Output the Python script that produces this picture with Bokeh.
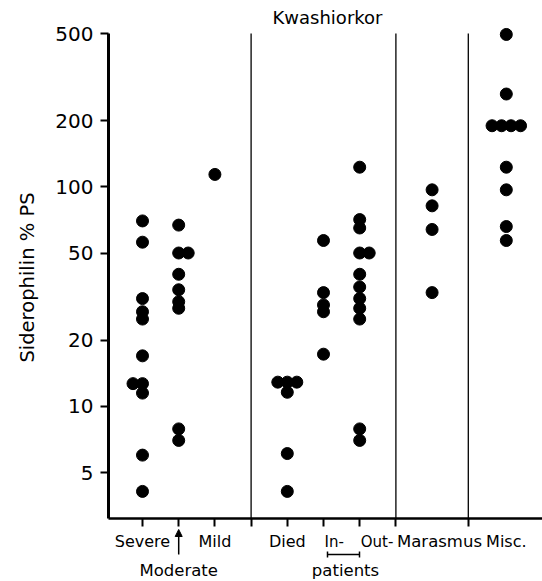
import math
from bokeh.plotting import figure
from bokeh.models import (FixedTicker, BasicTickFormatter, Label, Arrow, LinearAxis,
                          LogAxis, NormalHead, TeeHead, ColumnDataSource)
from bokeh.embed import file_html
from bokeh.resources import INLINE

# ---------------- data ----------------
title_text = "Kwashiorkor"
y_label = "Siderophilin % PS"
y_ticks = [5, 10, 20, 50, 100, 200, 500]

groups = ["Severe", "Moderate", "Mild", "Died", "In-", "Out-", "Marasmus", "Misc."]
group_pos = [1, 2, 3, 5, 6, 7, 9, 11.05]

severe = [70, 56, 31, 27, 25, 17, 12.7, 12.7, 11.5, 6.0, 4.1]
moderate = [67, 50, 50, 40, 34, 30, 28, 7.9, 7.0]
mild = [114]
died = [12.9, 12.9, 12.9, 11.6, 6.1, 4.1]
inpatients = [57, 33, 29, 27, 17.3]
outpatients = [123, 71, 65, 50, 50, 40, 35, 31, 28, 25, 7.9, 7.0]
marasmus = [97, 82, 64, 33]
misc = [495, 265, 190, 190, 190, 190, 123, 97, 66, 57]

group_values = [severe, moderate, mild, died, inpatients, outpatients, marasmus, misc]
x_ticks = [1, 2, 3, 4, 5, 6, 7, 8, 10]
dividers = [4, 8, 10]
outpatient_word = "patients"

# ---------------- layout constants (pixels of the drawing) ----------------
W, H = 542, 581
PX_PER_DEC = 219.5          # pixels per decade on the y axis
PX_PER_UNIT = 36.2          # pixels per category step
Y500_PX = 33                # pixel row of the 500 tick
X1_PX = 142                 # pixel column of category 1
AXIS_X_PX = 108
AXIS_Y_PX = 518
FONT = "DejaVu Sans"


def xv(px):
    return 1 + (px - X1_PX) / PX_PER_UNIT


def yv(py):
    return 500 / 10 ** ((py - Y500_PX) / PX_PER_DEC)


y_axis_val = yv(AXIS_Y_PX)
x_axis_val = xv(AXIS_X_PX)

# jitter for identical values
spacing = 9.5 / PX_PER_UNIT
xs, ys = [], []
for name, pos, vals in zip(groups, group_pos, group_values):
    counts = {}
    for v in vals:
        counts[v] = counts.get(v, 0) + 1
    seen = {}
    for v in vals:
        k = counts[v]
        i = seen.get(v, 0)
        seen[v] = i + 1
        if k == 2:
            off = (i - 1) if name == "Severe" else i
        else:
            off = i - (k - 1) / 2
        xs.append(pos + off * spacing)
        ys.append(v)

src = ColumnDataSource(dict(x=xs, y=ys))

p = figure(width=W, height=H, x_range=(xv(0), xv(W)), y_range=(yv(H), yv(0)),
           y_axis_type="log", x_axis_location=None, y_axis_location=None,
           output_backend="svg", toolbar_location=None,
           min_border_left=0, min_border_right=0, min_border_top=0,
           min_border_bottom=0)
p.outline_line_color = None
p.xgrid.visible = False
p.ygrid.visible = False
p.background_fill_color = "white"
p.border_fill_color = "white"

# dividers
p.segment(x0=dividers, x1=dividers, y0=[y_axis_val] * len(dividers),
          y1=[max(y_ticks)] * len(dividers), line_color="black", line_width=1.3)

p.scatter("x", "y", source=src, size=12, color="black")

# y axis (fixed inside the drawing)
yax = LogAxis(fixed_location=x_axis_val, ticker=FixedTicker(ticks=y_ticks),
              formatter=BasicTickFormatter(), bounds=(y_axis_val, max(y_ticks)))
yax.axis_line_width = 3
yax.major_tick_line_width = 2
yax.major_tick_out = 8
yax.major_tick_in = 0
yax.minor_tick_line_color = None
yax.major_label_standoff = 7
yax.major_label_text_font = FONT
yax.major_label_text_font_size = "20px"
yax.major_label_text_color = "black"
p.add_layout(yax, "left")

# x axis (fixed inside the drawing)
xax = LinearAxis(fixed_location=y_axis_val, ticker=FixedTicker(ticks=x_ticks),
                 bounds=(x_axis_val, xv(W)))
xax.axis_line_width = 2.5
xax.major_tick_line_width = 2
xax.major_tick_out = 8
xax.major_tick_in = 0
xax.minor_tick_line_color = None
xax.major_label_overrides = {t: "" for t in x_ticks}
p.add_layout(xax, "below")

# y axis title
p.add_layout(Label(x=xv(27), y=yv(277), text=y_label, text_font=FONT,
                   text_font_size="19.5px", angle=math.pi / 2, text_align="center",
                   text_baseline="middle", text_color="black"))

# category labels
ROW1 = 541
for name, pos in zip(groups, group_pos):
    if name == "Moderate":
        continue
    if name in ("In-", "Out-"):
        p.add_layout(Label(x=pos + 0.03, y=yv(ROW1), text=name, text_font=FONT,
                           text_font_size="15px", text_align="left",
                           text_baseline="middle", text_color="black"))
    elif name == "Marasmus":
        p.add_layout(Label(x=xv(439), y=yv(ROW1), text=name, text_font=FONT,
                           text_font_size="16.5px", text_align="center",
                           text_baseline="middle", text_color="black"))
    else:
        p.add_layout(Label(x=pos, y=yv(ROW1), text=name, text_font=FONT,
                           text_font_size="16px", text_align="center",
                           text_baseline="middle", text_color="black"))

# second row
ROW2 = 570
p.add_layout(Label(x=2, y=yv(ROW2), text=groups[1], text_font=FONT,
                   text_font_size="16.5px", text_align="center",
                   text_baseline="middle", text_color="black"))
p.add_layout(Label(x=xv(345), y=yv(ROW2), text=outpatient_word, text_font=FONT,
                   text_font_size="16.5px", text_align="center",
                   text_baseline="middle", text_color="black"))

# arrow to Moderate
p.add_layout(Arrow(end=NormalHead(size=7, fill_color="black", line_color="black"),
                   x_start=2, y_start=yv(554), x_end=2, y_end=yv(529),
                   line_width=1.5, line_color="black"))
# bracket under In- Out-
p.add_layout(Arrow(start=TeeHead(size=6, line_width=1.5, line_color="black"),
                   end=TeeHead(size=6, line_width=1.5, line_color="black"),
                   x_start=xv(327), y_start=yv(554), x_end=xv(359), y_end=yv(554),
                   line_width=1.5, line_color="black"))

# title over kwashiorkor section
p.add_layout(Label(x=xv(327), y=yv(17), text=title_text, text_font=FONT,
                   text_font_size="18px", text_align="center",
                   text_baseline="middle", text_color="black"))

open("out.html", "w").write(file_html(p, INLINE))
